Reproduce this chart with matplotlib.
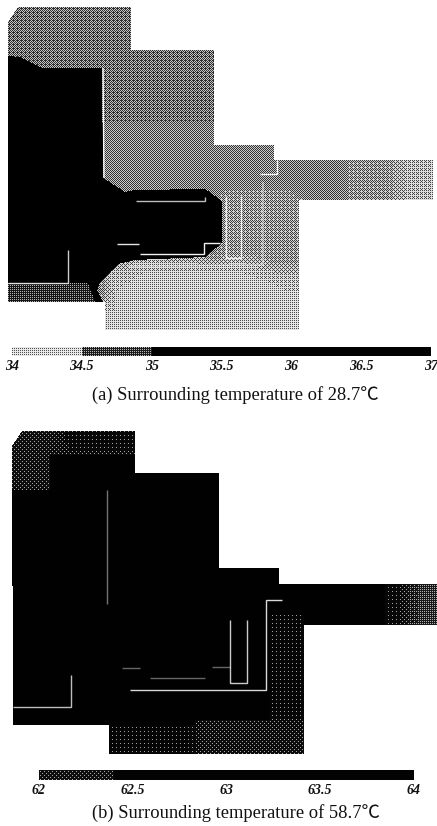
import numpy as np
import matplotlib
matplotlib.use("Agg")
import matplotlib.pyplot as plt
from matplotlib.path import Path

W, H = 437, 826

# ---------- Panel (a): regions as (outline, darkness)
a_regions = [
    ([(8,22),(18,7),(131,7),(131,50),(214,50),(214,145),(274,145),(274,160),(433,160),(433,200),(299,200),(299,330),(105,330),(105,302),(8,302)], 0.5),
    ([(8,22),(18,7),(131,7),(131,50),(214,50),(214,120),(8,120)], 0.57),
    ([(274,160),(345,160),(345,200),(274,200)], 0.52),
    ([(345,160),(395,160),(395,200),(345,200)], 0.44),
    ([(395,160),(433,160),(433,200),(395,200)], 0.34),
    ([(222,190),(299,190),(299,265),(222,265)], 0.42),
    ([(105,268),(299,268),(299,330),(105,330)], 0.31),
    ([(135,262),(250,262),(299,285),(299,330),(105,330),(105,290)], 0.28),
    ([(8,283),(103,283),(103,302),(8,302)], 0.78),
    ([(8,56),(20,57),(42,68),(102,68),(103,178),(125,192),(135,190),(205,189),(222,201),(222,243),(205,257),(135,260),(118,264),(100,282),(97,290),(103,302),(95,302),(88,283),(8,283)], 1.0),
]
a_lines = [
    ([(103,68),(104,178)], 0.95),
    ([(277,160),(277,174),(260,174)], 0.95),
    ([(226,196),(226,258),(241,258),(241,196)], 0.85),
    ([(263,182),(263,265),(128,266)], 0.55),
    ([(136,201),(205,201),(205,197)], 0.75),
    ([(117,244),(139,244)], 0.9),
    ([(140,254),(204,254),(204,243),(220,243)], 0.95),
    ([(68,250),(68,283),(8,283)], 0.8),
]
a_bar_values = [34, 34.5, 35, 37]
a_bar_dark = [0.22, 0.72, 0.98]
a_ticks = [34, 34.5, 35, 35.5, 36, 36.5, 37]
a_tick_labels = ["34", "34.5", "35", "35.5", "36", "36.5", "37"]
a_caption = "(a) Surrounding temperature of 28.7℃"

# ---------- Panel (b)
b_regions = [
    ([(12,446),(22,431),(135,431),(135,473),(219,473),(219,568),(279,568),(279,584),(437,584),(437,625),(304,625),(304,754),(109,754),(109,725),(13,725)], 0.99),
    ([(12,446),(22,431),(135,431),(135,455),(50,455),(50,490),(12,490)], 0.86),
    ([(60,431),(135,431),(135,450),(60,450)], 0.93),
    ([(385,584),(410,584),(410,625),(385,625)], 0.92),
    ([(410,584),(437,584),(437,625),(410,625)], 0.76),
    ([(270,615),(304,615),(304,754),(270,754)], 0.94),
    ([(195,720),(304,720),(304,754),(195,754)], 0.88),
    ([(109,725),(195,725),(195,754),(109,754)], 0.95),
]
b_lines = [
    ([(107,490),(107,604)], 0.45),
    ([(13,707),(71,707),(71,675)], 0.75),
    ([(230,620),(230,683),(247,683),(247,620)], 0.8),
    ([(130,690),(266,690),(266,600),(282,600)], 0.85),
    ([(122,668),(140,668)], 0.4),
    ([(150,678),(205,678)], 0.4),
    ([(212,667),(230,667)], 0.4),
]
b_bar_values = [62, 62.4, 64]
b_bar_dark = [0.86, 0.97]
b_ticks = [62, 62.5, 63, 63.5, 64]
b_tick_labels = ["62", "62.5", "63", "63.5", "64"]
b_caption = "(b) Surrounding temperature of 58.7℃"

# Placement of the colour bars and captions
a_bar_box = (12, 431, 347, 356)
b_bar_box = (39, 414, 770, 780)
a_tick_y, b_tick_y = 367, 791
a_caption_xy = (235, 395)
b_caption_xy = (236, 813)

BAYER = np.array([[0, 8, 2, 10], [12, 4, 14, 6], [3, 11, 1, 9], [15, 7, 13, 5]]) / 16 + 1 / 32

yy, xx = np.mgrid[0:H, 0:W]
pts = np.column_stack([xx.ravel() + 0.5, yy.ravel() + 0.5])
dark = np.zeros((H, W))


def paint(poly, value):
    mask = Path(poly + [poly[0]]).contains_points(pts).reshape(H, W)
    dark[mask] = value


def to_x(v, ticks, box):
    return box[0] + (v - ticks[0]) / (ticks[-1] - ticks[0]) * (box[1] - box[0])


def box_smooth(arr, size):
    kernel = np.ones(size) / size
    out = np.apply_along_axis(lambda r: np.convolve(r, kernel, mode="same"), 0, arr)
    return np.apply_along_axis(lambda r: np.convolve(r, kernel, mode="same"), 1, out)


for poly, value in a_regions + b_regions:
    paint(poly, value)

# Soften the steps between the mid tones only, so the tone changes gradually
mid = (dark > 0) & (dark < 0.97)
smooth = box_smooth(dark * mid, 21) / np.maximum(box_smooth(mid.astype(float), 21), 1e-6)
dark[mid] = smooth[mid]

for values, tones, box in [(a_bar_values, a_bar_dark, a_bar_box), (b_bar_values, b_bar_dark, b_bar_box)]:
    for v0, v1, t in zip(values[:-1], values[1:], tones):
        x0, x1 = to_x(v0, values, box), to_x(v1, values, box)
        paint([(x0, box[2]), (x1, box[2]), (x1, box[3]), (x0, box[3])], t)

screen = np.tile(BAYER, (H // 4 + 1, W // 4 + 1))[:H, :W]
halftone = (dark > screen).astype(float)
grey = 1 - (0.6 * halftone + 0.4 * dark)
grey[dark == 0] = 1.0

fig = plt.figure(figsize=(W / 100, H / 100), dpi=100, facecolor="white")
ax = fig.add_axes([0, 0, 1, 1])
ax.imshow(grey, cmap="gray", vmin=0, vmax=1, extent=(0, W, H, 0), interpolation="nearest", aspect="auto")

for poly, strength in a_lines + b_lines:
    xs, ys = zip(*poly)
    ax.plot(xs, ys, color="white", lw=1.0, alpha=strength, solid_capstyle="butt", solid_joinstyle="miter")

ax.set_xlim(0, W)
ax.set_ylim(H, 0)
ax.axis("off")

tick_font = dict(family="Liberation Serif", style="italic", weight="bold", fontsize=10, ha="center", va="center", color="#111111")
for ticks, labels, box, y in [(a_ticks, a_tick_labels, a_bar_box, a_tick_y), (b_ticks, b_tick_labels, b_bar_box, b_tick_y)]:
    for v, lab in zip(ticks, labels):
        ax.text(to_x(v, ticks, box), y, lab, **tick_font)

cap_font = dict(family=["Liberation Serif", "Noto Sans CJK SC"], fontsize=13.3, ha="center", va="center", color="#111111")
ax.text(*a_caption_xy, a_caption, **cap_font)
ax.text(*b_caption_xy, b_caption, **cap_font)

fig.savefig("out.png", dpi=100)
